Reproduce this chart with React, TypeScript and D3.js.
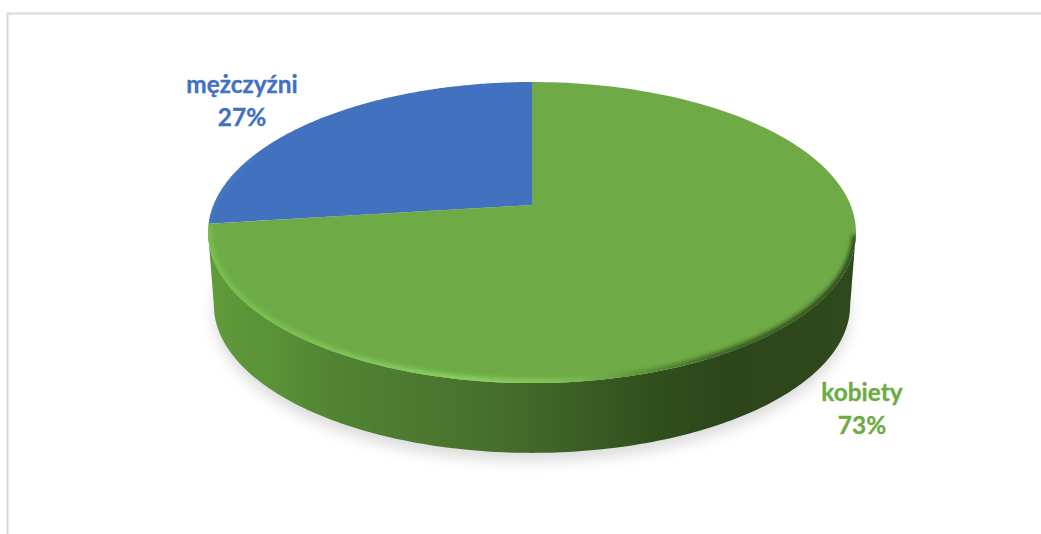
import React from "react";
import * as d3 from "d3";

const categories = ["mężczyźni", "kobiety"];
const shares = [27, 73];
const labelLines = [["mężczyźni", "27%"], ["kobiety", "73%"]];
const sliceColors = ["#4272bf", "#6eab47"];
const labelCenters = [[242, 84], [862, 392]];

const W = 1041, H = 534;
const cx = 532, y0 = 205, R = 318.5, A = 145.5, K = 0.183;

// perspective projection of a pie angle on a disc lying in the plane
const project = (t: number, scale = 1, top = y0) => {
  const u = Math.sin(t), v = Math.cos(t), d = 1 + K * v;
  return [cx + (scale * R * u) / d, top - (scale * A * v) / d] as [number, number];
};
const sample = (a: number, b: number, scale = 1, top = y0) =>
  d3.range(0, 181).map((i) => project(a + ((b - a) * i) / 180, scale, top));

const line = d3.line();
const firstAngle = (2 * Math.PI * shares[0]) / 100;
const slices = d3.pie<number>().sort(null).startAngle(-firstAngle).endAngle(2 * Math.PI - firstAngle)(shares);

const tangent = Math.acos(-K); // angle where the outline is widest
const BOTTOM_SCALE = 0.982, BOTTOM_TOP = 278;
const topLower = sample(tangent, 2 * Math.PI - tangent);
const bottomLower = sample(tangent, 2 * Math.PI - tangent, BOTTOM_SCALE, BOTTOM_TOP);
const sidePath = line([...topLower, ...bottomLower.slice().reverse()]) + "Z";
const fullDisc = line(sample(0, 2 * Math.PI)) + "Z";
const bottomDisc = line(sample(0, 2 * Math.PI, BOTTOM_SCALE, BOTTOM_TOP)) + "Z";
const slicePath = (a: number, b: number) => line([[cx, y0], ...sample(a, b)]) + "Z";
const rimPath = line(sample(tangent + 0.02, 2 * Math.PI - firstAngle - 0.01));
const blueRimPath = line(sample(-firstAngle + 0.01, -firstAngle + 0.5));

const sideStops: [number, string][] = [
  [0, "#609b3b"], [0.1, "#5a9238"], [0.2, "#518332"], [0.3, "#4d7b30"], [0.45, "#466e2c"],
  [0.58, "#3a5d24"], [0.68, "#31501e"], [0.8, "#2c461a"], [1, "#2e491b"],
];
const rimStops: [number, string][] = [
  [0, "#78c04e"], [0.2, "#7cc453"], [0.3, "#85cc5c"], [0.42, "#8ad262"], [0.54, "#7fc457"], [0.66, "#5f9639"],
  [0.78, "#3d6226"], [1, "#2e491b"],
];

export default function App() {
  return (
    <svg width={W} height={H} viewBox={`0 0 ${W} ${H}`} style={{ position: "absolute", left: 0, top: 0, background: "#fff" }}>
      <defs>
        <linearGradient id="side" gradientUnits="userSpaceOnUse" x1={208} x2={856} y1={0} y2={0}>
          {sideStops.map(([o, c]) => <stop key={o} offset={o} stopColor={c} />)}
        </linearGradient>
        <linearGradient id="rim" gradientUnits="userSpaceOnUse" x1={208} x2={856} y1={0} y2={0}>
          {rimStops.map(([o, c]) => <stop key={o} offset={o} stopColor={c} />)}
        </linearGradient>
        <filter id="shadow" x="-10%" y="-10%" width="120%" height="125%"><feGaussianBlur stdDeviation="7" /></filter>
        <filter id="soft" x="-5%" y="-5%" width="110%" height="110%"><feGaussianBlur stdDeviation="2.2" /></filter>
        <clipPath id="discClip"><path d={fullDisc} /></clipPath>
      </defs>

      <path d="M7.5 534V13.5H1041" fill="none" stroke="#d9d9d9" strokeWidth={2} />

      <path d={bottomDisc} fill="#c4c4c4" opacity={0.6} transform="translate(0,8)" filter="url(#shadow)" />
      <path d={sidePath} fill="url(#side)" />
      {slices.map((s, i) => (
        <path key={categories[i]} d={slicePath(s.startAngle, s.endAngle)} fill={sliceColors[i]} />
      ))}
      <g clipPath="url(#discClip)">
        <path d={rimPath ?? ""} fill="none" stroke="url(#rim)" strokeWidth={8} filter="url(#soft)" />
        <path d={blueRimPath ?? ""} fill="none" stroke="#4c82d2" strokeWidth={4} opacity={0.6} filter="url(#soft)" />
      </g>

      {labelLines.map((lines, i) => (
        <text key={categories[i]} textAnchor="middle" fontFamily="Lato" fontWeight={700} fontSize={24.4} fill={sliceColors[i]} stroke={sliceColors[i]} strokeWidth={0.35}>
          {lines.map((t, j) => (
            <tspan key={t} x={labelCenters[i][0]} y={labelCenters[i][1] + 9 + j * 33}>{t}</tspan>
          ))}
        </text>
      ))}
    </svg>
  );
}
